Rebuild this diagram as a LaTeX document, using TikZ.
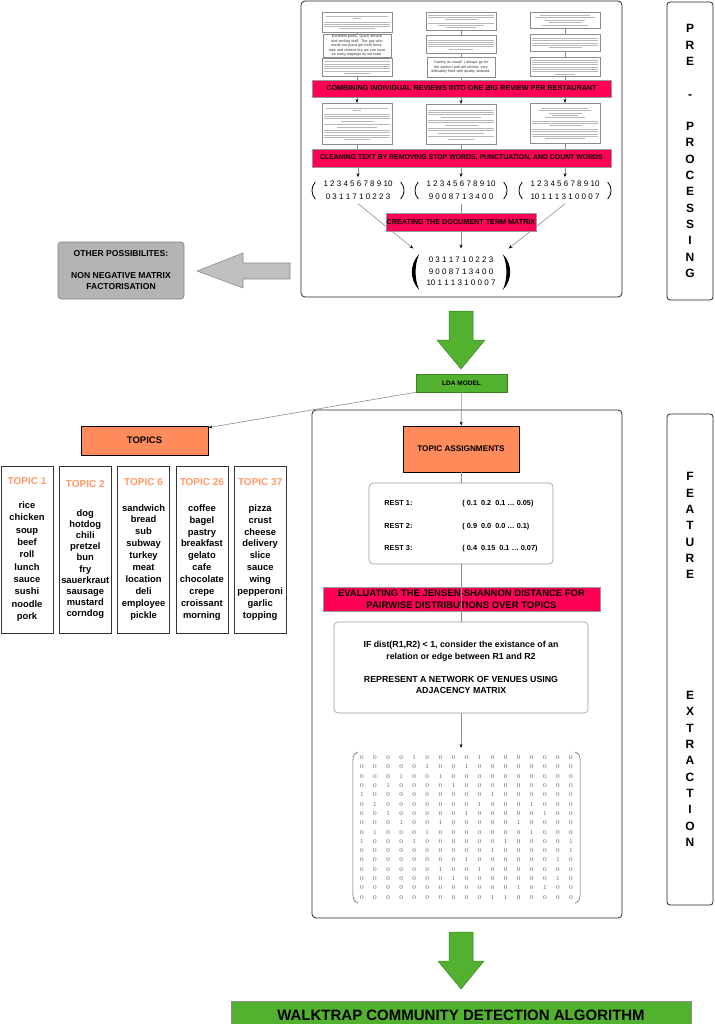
\documentclass[tikz,border=0pt]{standalone}
\usepackage{amsmath}
\usepackage[no-math]{fontspec}
\setmainfont{Liberation Sans}
\usepackage{tikz}
\usetikzlibrary{arrows.meta, positioning, calc}
\setcounter{MaxMatrixCols}{20}

\definecolor{hotpink}{RGB}{255,0,85}
\definecolor{coral}{RGB}{255,140,90}
\definecolor{topicorange}{RGB}{255,153,102}
\definecolor{leafgreen}{RGB}{82,177,46}
\definecolor{leafdark}{RGB}{58,128,34}
\definecolor{boxgray}{RGB}{180,180,180}

% fake lines of tiny review text
\newcommand{\fk}[1][1]{\rule{#1\linewidth}{0.35pt}\par}
\newcommand{\gap}{\vspace{1.2pt}}
\newcommand{\topictitle}[1]{{\color{topicorange}\fontsize{10}{12}\selectfont#1}}

\begin{document}
\begin{tikzpicture}[
        x=1pt, y=-1pt,
        >={Stealth[length=4pt, width=3pt, color=black]},
        frame/.style={draw=black!85, rounded corners=4pt, line width=0.8pt},
        sidebox/.style={draw=black!85, rounded corners=3pt, line width=0.8pt, minimum width=46pt, align=center, font=\fontsize{12}{16.3}\selectfont\bfseries},
        review/.style={draw=black!45, fill=white, line width=0.6pt, text width=66pt, inner sep=2pt, align=center, anchor=north, text=black!28, font=\fontsize{2}{2.3}\selectfont},
        reviewtxt/.style={review, inner sep=1pt, text=black!80, font=\fontsize{3.7}{4.4}\selectfont},
        pinkbar/.style={draw=black!40, fill=hotpink, line width=0.5pt, inner sep=0pt, align=center, font=\fontsize{7.2}{8}\selectfont\bfseries},
        wordvec/.style={inner xsep=7pt, inner ysep=0pt, font=\fontsize{8}{13}\selectfont},
        paren/.style={draw=black, line width=0.8pt},
        thinparen/.style={draw=black!60, line width=0.6pt},
        orangebox/.style={draw=black, fill=coral, line width=0.8pt},
        greenbox/.style={draw=leafdark, fill=leafgreen, line width=0.6pt, inner sep=0pt},
        graybox/.style={draw=black!50, fill=boxgray, rounded corners=3pt, line width=0.6pt, align=center},
        roundbox/.style={draw=black!40, fill=white, rounded corners=4pt, line width=0.6pt, align=center},
        topicbox/.style={draw=black!80, line width=0.8pt, minimum width=52pt, minimum height=167pt, inner sep=1pt, align=center},
        blockgray/.style={draw=black!45, fill=black!25, line width=0.6pt},
        blockgreen/.style={draw=leafdark, fill=leafgreen, line width=0.5pt},
        link/.style={draw=black!45, line width=0.6pt},
        arrow/.style={link, ->}
    ]

    \useasboundingbox (0,0) rectangle (714,1024);
    \clip (0,0) rectangle (714,1024);

    % --- Pre-processing ---
    \draw[frame] (301,1) rectangle (622,297);
    \node[sidebox, minimum height=298pt] (prelabel) at (690,151) {P\\R\\E\\[16.3pt]-\\[16.3pt]P\\R\\O\\C\\E\\S\\S\\I\\N\\G};

    \node[review, minimum height=20pt] (l1) at (357,12) {\fk[.95]\fk[.12]\gap\fk\fk\fk\fk[.55]};
    \node[reviewtxt, minimum height=18pt] (l2) at (357,34) {Excellent pizza. Quick service and smiling staff. The guy who made our pizza got both tomatoes and cheese but we can have as many toppings as we want.};
    \node[review, minimum height=18pt] (l3) at (357,58) {\fk\fk\fk\fk\fk\fk[.4]};
    \node[review, minimum height=18pt] (m1) at (461,12) {\fk\fk\fk[.5]\gap\fk\fk[.7]\fk[.45]};
    \node[review, minimum height=18pt] (m2) at (461,35) {\fk\fk\fk\fk\fk[.35]};
    \node[reviewtxt, minimum height=20pt] (m3) at (461,57) {Yummy as usual! I always go for the salmon and ahi shrimp, very delicately fried with quality seafood.};
    \node[review, minimum height=16pt] (r1) at (565,12) {\fk[.75]\fk[.9]\fk[.6]\fk[.5]\gap\fk[.7]};
    \node[review, minimum height=17pt] (r2) at (565,34) {\fk\fk\fk\fk\fk[.5]};
    \node[review, minimum height=19pt] (r3) at (565,57) {\fk\fk\fk\fk\fk\fk\fk[.3]};

    \node[pinkbar, minimum width=299pt, minimum height=17pt] (combine) at (461.5,88.5) {COMBINING INDIVIDUAL REVIEWS INTO ONE BIG REVIEW PER RESTAURANT};

    \node[review, minimum height=41pt] (l4) at (357,103) {\fk[.95]\fk[.12]\gap\fk\fk\fk\fk[.5]\gap\fk\fk[.6]\gap\fk\fk\fk\fk\fk[.4]};
    \node[review, minimum height=40pt] (m4) at (461,104) {\fk\fk\fk\fk[.6]\gap\fk\fk\fk[.5]\gap\fk\fk\fk[.7]\gap\fk\fk[.4]};
    \node[review, minimum height=40pt] (r4) at (565,103) {\fk[.7]\fk[.8]\fk[.5]\fk[.4]\fk[.6]\gap\fk\fk\fk[.5]\gap\fk\fk\fk\fk\fk[.6]};

    \node[pinkbar, minimum width=299pt, minimum height=18pt, font=\fontsize{6.9}{8}\selectfont\bfseries] (clean) at (461.5,158) {CLEANING TEXT BY REMOVING STOP WORDS, PUNCTUATION, AND COUNT WORDS};

    \node[wordvec] (vec1) at (358,190.5) {\begin{tabular}{@{}c@{}}1 2 3 4 5 6 7 8 9 10\\0 3 1 1 7 1 0 2 2 3\end{tabular}};
    \node[wordvec] (vec2) at (461,190.5) {\begin{tabular}{@{}c@{}}1 2 3 4 5 6 7 8 9 10\\9 0 0 8 7 1 3 4 0 0\end{tabular}};
    \node[wordvec] (vec3) at (565,190.5) {\begin{tabular}{@{}c@{}}1 2 3 4 5 6 7 8 9 10\\10 1 1 1 3 1 0 0 0 7\end{tabular}};
    \foreach \v in {vec1, vec2, vec3} {
        \draw[paren] ($(\v.west)+(-1,-8.5)$) .. controls +(-4.5,5) and +(-4.5,-5) .. ($(\v.west)+(-1,8.5)$);
        \draw[paren] ($(\v.east)+(1,-8.5)$) .. controls +(4.5,5) and +(4.5,-5) .. ($(\v.east)+(1,8.5)$);
    }

    \node[inner xsep=13pt, inner ysep=6pt, font=\fontsize{8}{11.5}\selectfont] (dtm) at (461,272) {\begin{tabular}{@{}c@{}}0 3 1 1 7 1 0 2 2 3\\9 0 0 8 7 1 3 4 0 0\\10 1 1 1 3 1 0 0 0 7\end{tabular}};
    \fill ($(dtm.west)+(6,-18)$) .. controls +(-10,10) and +(-10,-10) .. ($(dtm.west)+(6,18)$)
        .. controls +(-5,-10) and +(-5,10) .. cycle;
    \fill ($(dtm.east)+(-6,-18)$) .. controls +(10,10) and +(10,-10) .. ($(dtm.east)+(-6,18)$)
        .. controls +(5,-10) and +(5,10) .. cycle;

    % --- Pre-processing connections ---
    \foreach \col in {l, m, r} {
        \draw[link] (\col1) -- (\col2);
        \draw[link] (\col2) -- (\col3);
        \draw[link] (\col3) -- (\col3 |- combine.north);
        \draw[arrow] (\col4 |- combine.south) -- (\col4.north);
        \draw[link] (\col4) -- (\col4 |- clean.north);
    }
    \foreach \v in {vec1, vec2, vec3}
        \draw[arrow] (\v |- clean.south) -- (\v.north);
    \draw[arrow] (vec1.south) -- (dtm.north west);
    \draw[arrow] (vec2.south) -- (dtm.north);
    \draw[arrow] (vec3.south) -- (dtm.north east);

    \node[pinkbar, minimum width=150pt, minimum height=18pt] (dtmbar) at (461,222) {CREATING THE DOCUMENT TERM MATRIX};

    % --- Other possibilities ---
    \node[graybox, minimum width=126pt, minimum height=57pt, font=\fontsize{8.6}{11}\selectfont\bfseries] (other) at (121,270.5) {OTHER POSSIBILITES:\\[11pt]NON NEGATIVE MATRIX\\FACTORISATION};
    \draw[blockgray] (290,263) -- (243,263) -- (243,253) -- (197,271) -- (243,288) -- (243,279) -- (290,279) -- cycle;

    % --- LDA ---
    \draw[blockgreen] (449,311) -- (473,311) -- (473,340) -- (485,340) -- (461,369) -- (437,340) -- (449,340) -- cycle;
    \node[greenbox, minimum width=91pt, minimum height=18pt, font=\fontsize{6.5}{8}\selectfont\bfseries] (lda) at (461.5,383) {LDA MODEL};

    % --- Topics ---
    \node[orangebox, minimum width=127pt, minimum height=29pt, font=\fontsize{9.5}{11}\selectfont\bfseries] (topics) at (144.5,440.5) {TOPICS};

    \node[topicbox, font=\fontsize{9.4}{12.3}\selectfont\bfseries] (topic1) at (27,549.5) {\topictitle{TOPIC 1}\\[11.7pt]rice\\chicken\\soup\\beef\\roll\\lunch\\sauce\\sushi\\noodle\\pork};
    \node[topicbox, right=5.5pt of topic1, font=\fontsize{9.4}{11.1}\selectfont\bfseries] (topic2) {\topictitle{TOPIC 2}\\[17.9pt]dog\\hotdog\\chili\\pretzel\\bun\\fry\\sauerkraut\\sausage\\mustard\\corndog};
    \node[topicbox, right=5.5pt of topic2, font=\fontsize{9.4}{11.9}\selectfont\bfseries] (topic6) {\topictitle{TOPIC 6}\\[13.2pt]sandwich\\bread\\sub\\subway\\turkey\\meat\\location\\deli\\employee\\pickle};
    \node[topicbox, right=5.5pt of topic6, font=\fontsize{9.4}{11.9}\selectfont\bfseries] (topic26) {\topictitle{TOPIC 26}\\[13.6pt]coffee\\bagel\\pastry\\breakfast\\gelato\\cafe\\chocolate\\crepe\\croissant\\morning};
    \node[topicbox, right=5.5pt of topic26, font=\fontsize{9.4}{11.9}\selectfont\bfseries] (topic37) {\topictitle{TOPIC 37}\\[13.6pt]pizza\\crust\\cheese\\delivery\\slice\\sauce\\wing\\pepperoni\\garlic\\topping};

    % --- Feature extraction ---
    \draw[frame] (312,410) rectangle (622,918);
    \node[sidebox, minimum height=491pt] (featlabel) at (690,659.5) {F\\E\\A\\T\\U\\R\\E\\[104.7pt]E\\X\\T\\R\\A\\C\\T\\I\\O\\N};

    \node[orangebox, minimum width=116pt, minimum height=46pt, font=\fontsize{8.2}{10}\selectfont\bfseries] (assign) at (461,449) {TOPIC ASSIGNMENTS};

    \node[roundbox, minimum width=184pt, minimum height=81pt, font=\fontsize{7.3}{22.5}\selectfont\bfseries] (rest) at (461,523.5) {\begin{tabular}{@{}l@{\hspace{50pt}}l@{}}
        REST 1: & ( 0.1\ \ 0.2\ \ 0.1 … 0.05)\\
        REST 2: & ( 0.9\ \ 0.0\ \ 0.0 … 0.1)\\
        REST 3: & ( 0.4\ \ 0.15\ \ 0.1 … 0.07)
    \end{tabular}};

    \node[pinkbar, minimum width=277pt, minimum height=24pt, font=\fontsize{9.5}{12.3}\selectfont\bfseries] (jsd) at (461.5,599) {EVALUATING THE JENSEN-SHANNON DISTANCE FOR\\PAIRWISE DISTRIBUTIONS OVER TOPICS};

    \node[roundbox, minimum width=254pt, minimum height=91pt, font=\fontsize{8.8}{11.5}\selectfont\bfseries] (ifbox) at (461,667.5) {IF dist(R1,R2) < 1, consider the existance of an\\relation or edge between R1 and R2\\[11.5pt]REPRESENT A NETWORK OF VENUES USING\\ADJACENCY MATRIX};

    \node[inner xsep=9pt, inner ysep=5pt, text=black!65, font=\fontsize{6.5}{9.3}\selectfont] (adj) at (466.5,827.5) {$\setlength{\arraycolsep}{4.7pt}\begin{matrix}
        0&0&0&0&1&0&0&0&0&1&0&0&0&0&0&0&0\\
        0&0&0&0&0&1&0&0&1&0&0&0&0&0&0&0&0\\
        0&0&0&1&0&0&1&0&0&0&0&0&0&0&0&0&0\\
        0&0&1&0&0&0&0&1&0&0&0&0&0&0&0&0&0\\
        1&0&0&0&0&0&0&0&0&0&1&0&0&0&0&0&0\\
        0&1&0&0&0&0&0&0&0&1&0&0&0&1&0&0&0\\
        0&0&1&0&0&0&0&0&1&0&0&0&0&0&1&0&0\\
        0&0&0&1&0&0&1&0&0&0&0&0&1&0&0&0&0\\
        0&1&0&0&0&1&0&0&0&0&0&0&0&1&0&0&0\\
        1&0&0&0&1&0&0&0&0&0&0&1&0&0&0&0&1\\
        0&0&0&0&0&0&0&0&0&0&1&0&0&0&0&0&1\\
        0&0&0&0&0&0&0&0&1&0&0&0&0&0&0&1&0\\
        0&0&0&0&0&0&1&0&0&1&0&0&0&0&0&0&0\\
        0&0&0&0&0&0&0&1&0&0&0&0&0&0&0&1&0\\
        0&0&0&0&0&0&0&0&0&0&0&0&1&0&1&0&0\\
        0&0&0&0&0&0&0&0&0&0&1&1&0&0&0&0&0
    \end{matrix}$};
    \draw[thinparen] ($(adj.north west)+(7,4)$) .. controls +(-3,1) and +(0,-5) .. ($(adj.north west)+(2,12)$)
        -- ($(adj.south west)+(2,-12)$) .. controls +(0,5) and +(-3,-1) .. ($(adj.south west)+(7,-4)$);
    \draw[thinparen] ($(adj.north east)+(-7,4)$) .. controls +(3,1) and +(0,-5) .. ($(adj.north east)+(-2,12)$)
        -- ($(adj.south east)+(-2,-12)$) .. controls +(0,5) and +(3,-1) .. ($(adj.south east)+(-7,-4)$);

    % --- Feature extraction connections ---
    \draw[arrow] (lda.south west) -- ([yshift=-2pt]topics.north east);
    \draw[arrow] (lda) -- (assign);
    \draw[link] (assign) -- (rest);
    \draw[link] (rest) -- (ifbox);
    \draw[arrow] (ifbox.south) -- (ifbox.south |- adj.north);

    % --- Community detection ---
    \draw[blockgreen] (449,932) -- (473,932) -- (473,961) -- (484,961) -- (461,989) -- (438,961) -- (449,961) -- cycle;
    \node[greenbox, draw=black!45, minimum width=460pt, minimum height=29pt, anchor=north, font=\fontsize{15}{18}\selectfont\bfseries] (walktrap) at (461,1001) {WALKTRAP COMMUNITY DETECTION ALGORITHM};

\end{tikzpicture}
\end{document}
